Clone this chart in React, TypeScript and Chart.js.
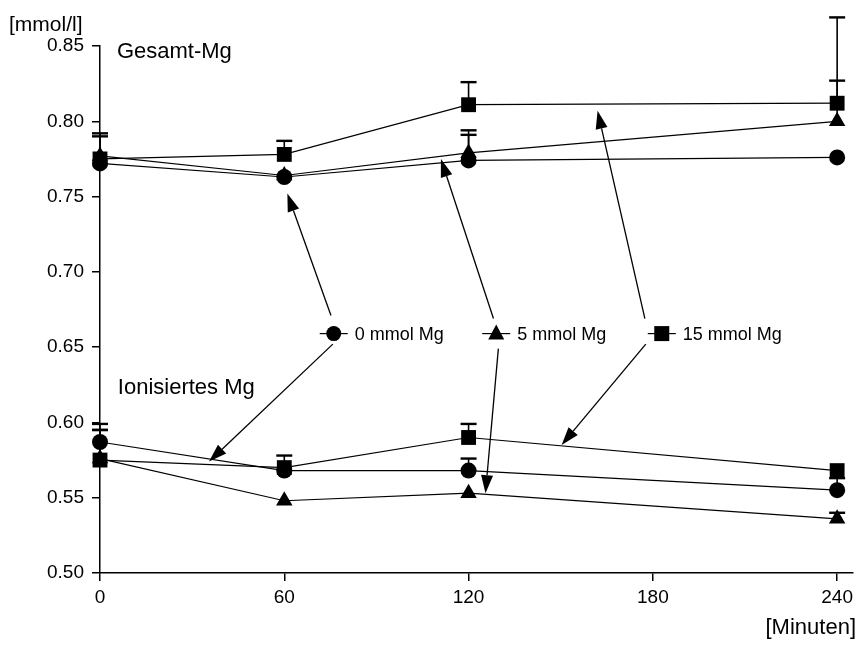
import React, { useEffect, useRef } from "react";
import { Chart, registerables } from "chart.js";

Chart.register(...registerables);

// ---- data ----
const times = [0, 60, 120, 240];
const xTicks = [0, 60, 120, 180, 240];
const yTicks = [0.5, 0.55, 0.6, 0.65, 0.7, 0.75, 0.8, 0.85];

const seriesLabels = ["0 mmol Mg", "5 mmol Mg", "15 mmol Mg"];

const gesamt0 = [0.772, 0.763, 0.774, 0.776];
const gesamt5 = [0.777, 0.764, 0.779, 0.8];
const gesamt15 = [0.775, 0.778, 0.811, 0.812];
const gesamtErr0 = [0.018, 0, 0.017, 0];
const gesamtErr5 = [0, 0, 0.015, 0.027];
const gesamtErr15 = [0.017, 0.009, 0.015, 0.057];

const ion0 = [0.587, 0.568, 0.568, 0.555];
const ion5 = [0.576, 0.548, 0.553, 0.536];
const ion15 = [0.575, 0.57, 0.59, 0.568];
const ionErr0 = [0.008, 0, 0.008, 0.008];
const ionErr5 = [0.023, 0, 0, 0.004];
const ionErr15 = [0.02, 0.008, 0.009, 0];

const groupLabels = ["Gesamt-Mg", "Ionisiertes Mg"];
const yUnit = "[mmol/l]";
const xUnit = "[Minuten]";

// ---- annotation placement (data coordinates) ----
const groupLabelPos = [
  { x: 5.5, y: 0.846 },
  { x: 5.8, y: 0.623 },
];
const legendPos = [
  { x: 76.1, y: 0.659 },
  { x: 129.0, y: 0.659 },
  { x: 182.9, y: 0.659 },
];
const arrows = [
  { fx: 75.2, fy: 0.671, tx: 61.0, ty: 0.752 },
  { fx: 75.8, fy: 0.652, tx: 35.5, ty: 0.574 },
  { fx: 128.1, fy: 0.669, tx: 111.0, ty: 0.775 },
  { fx: 129.7, fy: 0.649, tx: 125.5, ty: 0.553 },
  { fx: 177.4, fy: 0.669, tx: 162.0, ty: 0.807 },
  { fx: 177.7, fy: 0.652, tx: 150.3, ty: 0.585 },
];

const styles = ["circle", "triangle", "rect"] as const;
const radii = [8, 9.5, 10.5];
const FONT = "'Liberation Sans', Arial, sans-serif";

function mk(vals: number[]) {
  return times.map((t, i) => ({ x: t, y: vals[i] }));
}

function drawMarker(ctx: CanvasRenderingContext2D, style: string, x: number, y: number) {
  ctx.beginPath();
  if (style === "circle") {
    ctx.arc(x, y, 7.5, 0, Math.PI * 2);
  } else if (style === "triangle") {
    ctx.moveTo(x, y - 9);
    ctx.lineTo(x + 8, y + 6);
    ctx.lineTo(x - 8, y + 6);
    ctx.closePath();
  } else {
    ctx.rect(x - 7.5, y - 7.5, 15, 15);
  }
  ctx.fill();
}

const annotPlugin = {
  id: "annot",
  afterDatasetsDraw(chart: any) {
    const ctx: CanvasRenderingContext2D = chart.ctx;
    const xs = chart.scales.x;
    const ys = chart.scales.y;
    const px = (v: number) => xs.getPixelForValue(v);
    const py = (v: number) => ys.getPixelForValue(v);
    ctx.save();
    ctx.strokeStyle = "#000";
    ctx.fillStyle = "#000";

    // error bars (upper)
    chart.data.datasets.forEach((ds: any) => {
      const errs: number[] = ds.errs;
      ds.data.forEach((p: any, i: number) => {
        const e = errs[i];
        if (!e) return;
        const x = px(p.x);
        const y0 = py(p.y);
        const y1 = py(p.y + e);
        ctx.lineWidth = 1.6;
        ctx.beginPath();
        ctx.moveTo(x, y0);
        ctx.lineTo(x, y1);
        ctx.stroke();
        ctx.lineWidth = 2.4;
        ctx.beginPath();
        ctx.moveTo(x - 8, y1);
        ctx.lineTo(x + 8, y1);
        ctx.stroke();
      });
    });

    // group labels
    ctx.textBaseline = "middle";
    ctx.textAlign = "left";
    ctx.font = `22px ${FONT}`;
    groupLabels.forEach((t, i) => {
      ctx.fillText(t, px(groupLabelPos[i].x), py(groupLabelPos[i].y));
    });

    // legend items
    ctx.font = `18px ${FONT}`;
    seriesLabels.forEach((t, i) => {
      const x = px(legendPos[i].x);
      const y = py(legendPos[i].y);
      ctx.lineWidth = 1.2;
      ctx.beginPath();
      ctx.moveTo(x - 14, y);
      ctx.lineTo(x + 14, y);
      ctx.stroke();
      drawMarker(ctx, styles[i], x, y);
      ctx.fillText(t, x + 21, y + 1);
    });

    // arrows
    arrows.forEach((a) => {
      const x0 = px(a.fx), y0 = py(a.fy), x1 = px(a.tx), y1 = py(a.ty);
      const ang = Math.atan2(y1 - y0, x1 - x0);
      const L = 18, W = 6;
      const bx = x1 - L * Math.cos(ang);
      const by = y1 - L * Math.sin(ang);
      ctx.lineWidth = 1.3;
      ctx.beginPath();
      ctx.moveTo(x0, y0);
      ctx.lineTo(bx, by);
      ctx.stroke();
      ctx.beginPath();
      ctx.moveTo(x1, y1);
      ctx.lineTo(bx + W * Math.sin(ang), by - W * Math.cos(ang));
      ctx.lineTo(bx - W * Math.sin(ang), by + W * Math.cos(ang));
      ctx.closePath();
      ctx.fill();
    });

    // unit labels
    ctx.font = `21px ${FONT}`;
    ctx.textAlign = "left";
    ctx.fillText(yUnit, 9, 25);
    ctx.font = `22px ${FONT}`;
    ctx.textAlign = "right";
    ctx.fillText(xUnit, 856, 628);
    ctx.restore();
  },
};

export default function App() {
  const ref = useRef<HTMLCanvasElement>(null);
  useEffect(() => {
    document.body.style.margin = "0";
    const groups = [
      { vals: [gesamt0, gesamt5, gesamt15], errs: [gesamtErr0, gesamtErr5, gesamtErr15] },
      { vals: [ion0, ion5, ion15], errs: [ionErr0, ionErr5, ionErr15] },
    ];
    const datasets: any[] = [];
    groups.forEach((g, gi) => {
      g.vals.forEach((v, i) => {
        datasets.push({
          label: `${groupLabels[gi]} ${seriesLabels[i]}`,
          data: mk(v),
          errs: g.errs[i],
          borderColor: "#000",
          backgroundColor: "#000",
          borderWidth: 1.2,
          pointStyle: styles[i],
          pointRadius: radii[i],
          pointBorderWidth: 0,
          pointBackgroundColor: "#000",
          tension: 0,
          clip: false,
        });
      });
    });
    const axisFont = { family: FONT, size: 19 };
    const chart = new Chart(ref.current!, {
      type: "line",
      data: { datasets },
      plugins: [annotPlugin],
      options: {
        animation: false,
        responsive: false,
        layout: { padding: { top: 46, right: 3, left: 0, bottom: 0 } },
        plugins: { legend: { display: false }, tooltip: { enabled: false } },
        scales: {
          x: {
            type: "linear",
            min: 0,
            max: 245,
            afterBuildTicks: (s: any) => {
              s.ticks = xTicks.map((v) => ({ value: v }));
            },
            afterFit: (s: any) => {
              s.height = 73;
            },
            ticks: { color: "#000", font: axisFont, padding: 5, maxRotation: 0, callback: (v: any) => String(v) },
            grid: { drawOnChartArea: false, color: "#000", lineWidth: 1.5, tickLength: 8 },
            border: { color: "#000", width: 1.5 },
          },
          y: {
            type: "linear",
            min: 0.5,
            max: 0.85,
            afterBuildTicks: (s: any) => {
              s.ticks = yTicks.map((v) => ({ value: v }));
            },
            afterFit: (s: any) => {
              s.width = 100;
            },
            ticks: { color: "#000", font: axisFont, padding: 8, callback: (v: any) => Number(v).toFixed(2) },
            grid: { drawOnChartArea: false, color: "#000", lineWidth: 1.5, tickLength: 8 },
            border: { color: "#000", width: 1.5 },
          },
        },
      } as any,
    });
    return () => chart.destroy();
  }, []);
  return (
    <div style={{ width: 863, height: 646, background: "#fff" }}>
      <canvas ref={ref} width={863} height={646} />
    </div>
  );
}
